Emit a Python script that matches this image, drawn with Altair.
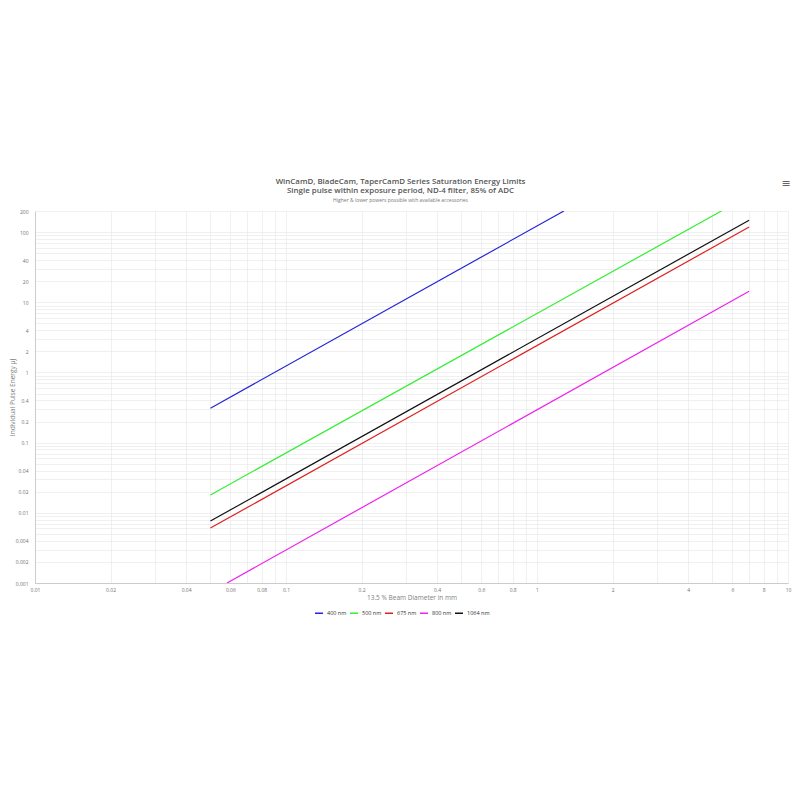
import altair as alt
import pandas as pd

# Series: start / end points (log-log straight lines)
series_names = ["400 nm", "500 nm", "675 nm", "800 nm", "1064 nm"]
series_colors = ["#2424d8", "#33ee33", "#e02020", "#ee22ee", "#111111"]

x_400 = [0.05, 1.28]
y_400 = [0.31, 200]
x_500 = [0.05, 5.43]
y_500 = [0.018, 200]
x_675 = [0.05, 7.0]
y_675 = [0.00607, 118]
x_800 = [0.0582, 7.0]
y_800 = [0.001, 14.4]
x_1064 = [0.05, 7.0]
y_1064 = [0.00764, 148]

x_labels = [0.01, 0.02, 0.04, 0.06, 0.08, 0.1, 0.2, 0.4, 0.6, 0.8, 1, 2, 4, 6, 8, 10]
y_labels = [0.001, 0.002, 0.004, 0.01, 0.02, 0.04, 0.1, 0.2, 0.4, 1, 2, 4, 10, 20, 40, 100, 200]

x_grid = sorted(set([round(m * 10 ** k, 6) for k in range(-2, 1) for m in range(1, 10)] + [10]))
y_grid = sorted(set([round(m * 10 ** k, 6) for k in range(-3, 3) for m in range(1, 10)
                     if round(m * 10 ** k, 6) <= 200]))

rows = []
for name, xs, ys in zip(series_names,
                        [x_400, x_500, x_675, x_800, x_1064],
                        [y_400, y_500, y_675, y_800, y_1064]):
    for xv, yv in zip(xs, ys):
        rows.append({"series": name, "d": xv, "e": yv})
df = pd.DataFrame(rows)

FONT = "Open Sans"
W, H = 753, 372

x_label_expr = "indexof(%s, datum.value) >= 0 ? format(datum.value, '~g') : ''" % str(x_labels)
y_label_expr = "indexof(%s, datum.value) >= 0 ? format(datum.value, '~g') : ''" % str(y_labels)

lines = alt.Chart(df).mark_line(strokeWidth=1.2, clip=True).encode(
    x=alt.X("d:Q",
            scale=alt.Scale(type="log", domain=[0.01, 10], nice=False),
            axis=alt.Axis(values=x_grid, labelExpr=x_label_expr, labelOverlap=False,
                          labelFlush=False, ticks=False, grid=True, gridColor="#e6e6e6",
                          gridWidth=0.6, domainColor="#cccccc", labelFont=FONT,
                          labelFontSize=5, labelColor="#707070", labelPadding=4,
                          title="13.5 % Beam Diameter in mm", titleFont=FONT,
                          titleFontSize=6.5, titleFontWeight="normal", titleColor="#808080",
                          titlePadding=2)),
    y=alt.Y("e:Q",
            scale=alt.Scale(type="log", domain=[0.001, 200], nice=False),
            axis=alt.Axis(values=y_grid, labelExpr=y_label_expr, labelOverlap=False,
                          labelFlush=False, ticks=False, grid=True, gridColor="#e6e6e6",
                          gridWidth=0.6, domainColor="#cccccc", labelFont=FONT,
                          labelFontSize=5, labelColor="#707070", labelPadding=7,
                          title="Individual Pulse Energy μJ", titleFont=FONT,
                          titleFontSize=6.5, titleFontWeight="normal", titleColor="#808080",
                          titleX=-23, titleY=H / 2, titleAngle=270, titleBaseline="middle",
                          titleAlign="center")),
    color=alt.Color("series:N",
                    scale=alt.Scale(domain=series_names, range=series_colors),
                    legend=alt.Legend(orient="none", legendX=279, legendY=397,
                                      direction="horizontal", title=None,
                                      symbolType="stroke", symbolSize=64,
                                      symbolStrokeWidth=1.5, labelFont=FONT,
                                      labelFontSize=5.5, labelColor="#333333",
                                      labelOffset=3, columnPadding=0)),
    order=alt.Order("d:Q"),
    detail="series:N",
)

menu = alt.Chart(pd.DataFrame({"t": ["≡"]})).mark_text(
    fontSize=11, color="#666666", font="DejaVu Sans", clip=False
).encode(text="t:N", x=alt.value(W - 2), y=alt.value(-27))

chart = alt.layer(lines, menu).properties(
    width=W,
    height=H,
    autosize=alt.AutoSizeParams(type="none"),
    padding={"left": 27, "top": 203, "right": 4, "bottom": 60},
    title=alt.TitleParams(
        text=["WinCamD, BladeCam, TaperCamD Series Saturation Energy Limits",
              "Single pulse within exposure period, ND-4 filter, 85% of ADC"],
        subtitle="Higher & lower powers possible with available accessories",
        font=FONT, fontSize=7.9, fontWeight=600, color="#555555", lineHeight=9,
        subtitleFont=FONT, subtitleFontSize=5, subtitleColor="#777777",
        subtitlePadding=3, anchor="middle", dx=-11, offset=-25,
    ),
).configure_view(stroke=None)

chart.save("out.html", embed_options={"renderer": "svg", "actions": False})
